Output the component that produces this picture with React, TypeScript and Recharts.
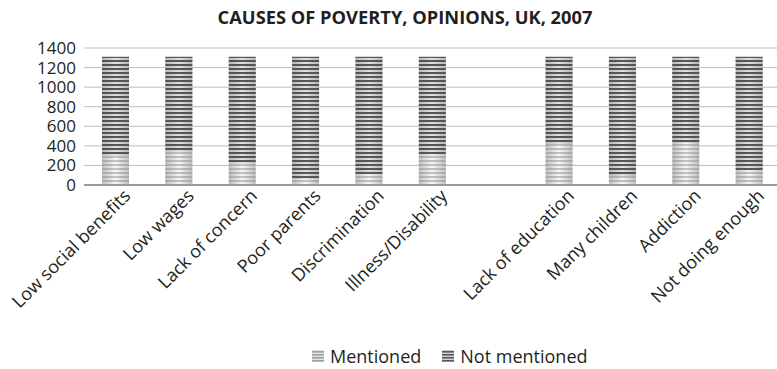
import { BarChart, Bar, XAxis, YAxis, CartesianGrid, Legend } from 'recharts';

const categories = [
  'Low social benefits',
  'Low wages',
  'Lack of concern',
  'Poor parents',
  'Discrimination',
  'Illness/Disability',
  '',
  'Lack of education',
  'Many children',
  'Addiction',
  'Not doing enough',
];
const mentioned = [300, 340, 220, 60, 110, 310, null, 420, 90, 430, 150];
const notMentioned = [1010, 970, 1090, 1250, 1200, 1000, null, 890, 1220, 880, 1160];
const yTicks = [0, 200, 400, 600, 800, 1000, 1200, 1400];

const data = categories.map((name, i) => ({
  name,
  mentioned: mentioned[i],
  notMentioned: notMentioned[i],
}));

const FONT = '"Open Sans", sans-serif';
const TEXT = '#231f20';

function stripedBar(patternId: string) {
  return (props: any) => {
    const { x, y, width, height } = props;
    if (!height || height <= 0) return <g />;
    return (
      <g>
        <rect x={x} y={y} width={width} height={height} fill="url(#barShade)" />
        <rect x={x} y={y} width={width} height={height} fill={`url(#${patternId})`} />
      </g>
    );
  };
}

function AxisTick(props: any) {
  const { x, y, payload } = props;
  const tx = x + 16;
  const ty = y + 4;
  return (
    <text
      x={tx}
      y={ty}
      transform={`rotate(-45, ${tx}, ${ty})`}
      textAnchor="end"
      fontSize={18}
      fontFamily={FONT}
      fill={TEXT}
    >
      {payload.value}
    </text>
  );
}

function LegendIcon({ dark }: { dark: boolean }) {
  const c = dark ? '#5a5a5a' : '#a0a0a0';
  return (
    <svg width={12} height={12} style={{ marginRight: 6 }}>
      <rect x={0} y={0} width={12} height={12} fill={dark ? '#d0d0d0' : '#e4e4e4'} />
      {[0, 3, 6, 9].map((yy) => (
        <rect key={yy} x={0} y={yy + 1} width={12} height={1.6} fill={c} />
      ))}
    </svg>
  );
}

function ChartLegend() {
  return (
    <div style={{ display: 'flex', alignItems: 'center', fontFamily: FONT, fontSize: 18, color: TEXT }}>
      <LegendIcon dark={false} />
      <span style={{ marginRight: 21 }}>Mentioned</span>
      <LegendIcon dark={true} />
      <span>Not mentioned</span>
    </div>
  );
}

export default function App() {
  return (
    <div style={{ position: 'absolute', left: 0, top: 0, width: 777, height: 369, overflow: 'hidden', background: '#fff' }}>
      <div
        style={{
          position: 'absolute',
          left: 0,
          top: 4,
          width: 810,
          textAlign: 'center',
          fontFamily: FONT,
          fontWeight: 700,
          fontSize: 18.3,
          color: TEXT,
        }}
      >
        CAUSES OF POVERTY, OPINIONS, UK, 2007
      </div>
      <BarChart
        width={781}
        height={369}
        data={data}
        margin={{ top: 48, right: 0, left: 0, bottom: 0 }}
        barSize={27}
      >
        <defs>
          <linearGradient id="barShade" x1="0" y1="0" x2="1" y2="0">
            <stop offset="0" stopColor="#c0c0c0" />
            <stop offset="0.5" stopColor="#f8f8f8" />
            <stop offset="1" stopColor="#c0c0c0" />
          </linearGradient>
          <pattern id="stripesLight" patternUnits="userSpaceOnUse" width={4} height={4}>
            <rect x={0} y={0} width={4} height={2} fill="#8c8c8c" fillOpacity={0.5} />
          </pattern>
          <pattern id="stripesDark" patternUnits="userSpaceOnUse" width={4} height={4}>
            <rect x={0} y={0} width={4} height={2} fill="#4a4a4a" fillOpacity={0.92} />
            <rect x={0} y={2} width={4} height={2} fill="#9a9a9a" fillOpacity={0.25} />
          </pattern>
        </defs>
        <CartesianGrid vertical={false} stroke="#bdbdbd" strokeWidth={1} />
        <XAxis
          dataKey="name"
          interval={0}
          height={184}
          tickLine={false}
          axisLine={{ stroke: '#9a9a9a', strokeWidth: 2 }}
          tick={<AxisTick />}
        />
        <YAxis
          width={84}
          domain={[0, 1400]}
          ticks={yTicks}
          interval={0}
          axisLine={false}
          tickLine={false}
          tickSize={6}
          tickMargin={2}
          tick={{ fontSize: 17, fontFamily: FONT, fill: TEXT }}
        />
        <Bar dataKey="mentioned" stackId="a" name="Mentioned" isAnimationActive={false} shape={stripedBar('stripesLight')} />
        <Bar dataKey="notMentioned" stackId="a" name="Not mentioned" isAnimationActive={false} shape={stripedBar('stripesDark')} />
        <Legend
          layout="horizontal"
          verticalAlign="middle"
          align="center"
          content={<ChartLegend />}
          wrapperStyle={{ position: 'absolute', left: 312, top: 344, width: 'auto' }}
        />
      </BarChart>
    </div>
  );
}
